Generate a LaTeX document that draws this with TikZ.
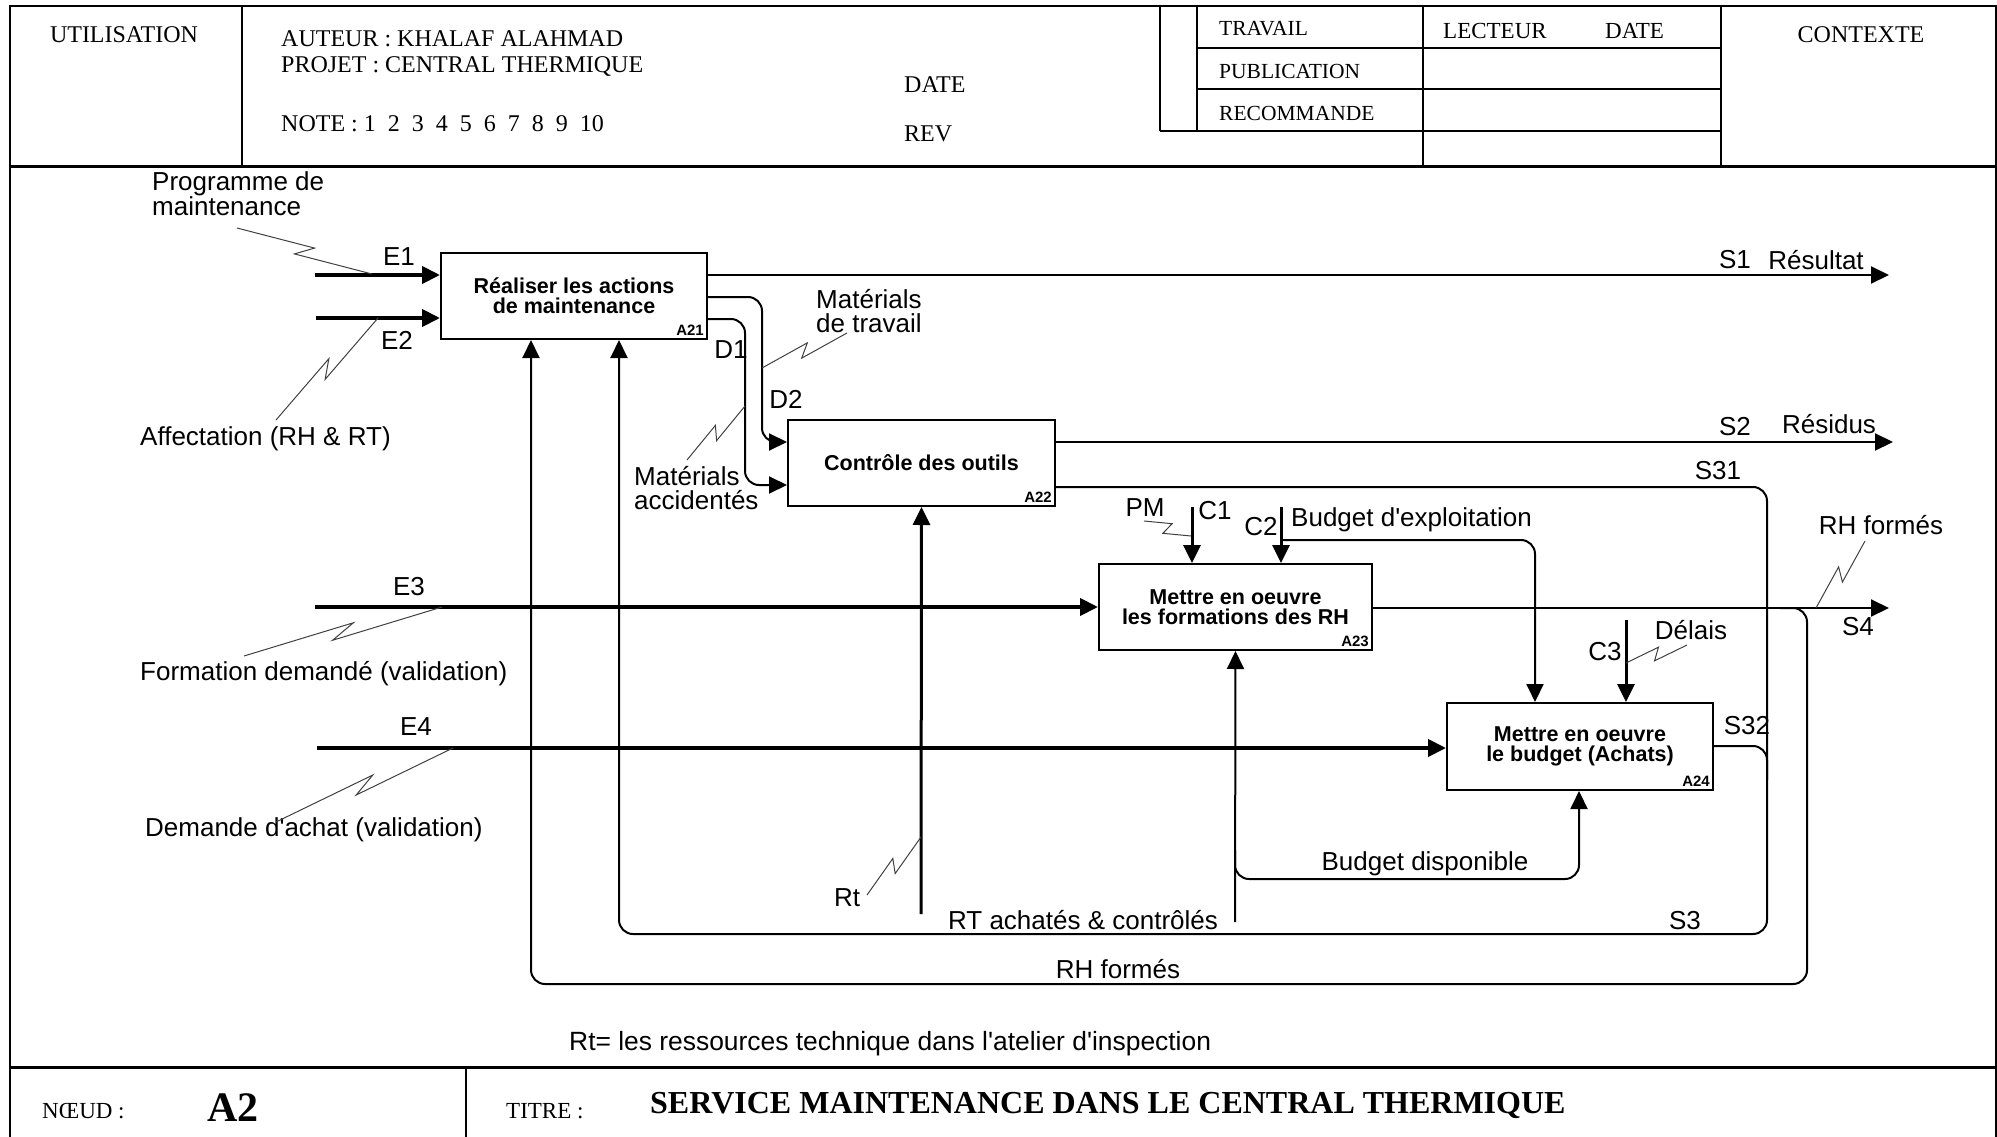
\documentclass[tikz,border=0pt]{standalone}
\usepackage{fontspec}
\setmainfont{Liberation Serif}
\newfontfamily\arialf{Liberation Sans}
\usetikzlibrary{arrows.meta,calc}
\newcommand\zigline[4]{%
  \pgfmathsetmacro\zdx{#3-(#1)}\pgfmathsetmacro\zdy{#4-(#2)}%
  \pgfmathsetmacro\zL{100*veclen(\zdx/100,\zdy/100)}%
  \pgfmathsetmacro\znx{6*\zdy/\zL}\pgfmathsetmacro\zny{-6*\zdx/\zL}%
  \draw[zig] (#1,#2) -- ({#1+0.56*\zdx+\znx},{#2+0.56*\zdy+\zny})
     -- ({#1+0.44*\zdx-\znx},{#2+0.44*\zdy-\zny}) -- (#3,#4);}
\begin{document}
\begin{tikzpicture}[x=1pt,y=-1pt,
  box/.style={draw,line width=2pt,fill=white,align=center,inner sep=0pt,
    font=\arialf\bfseries\fontsize{21.5}{20}\selectfont},
  boxid/.style={inner sep=0pt,anchor=south east,font=\arialf\bfseries\fontsize{15}{15}\selectfont},
  lbl/.style={inner sep=0pt,font=\arialf\fontsize{26}{24}\selectfont},
  hdr/.style={inner sep=0pt,anchor=west,font=\fontsize{24}{24}\selectfont},
  hdrs/.style={inner sep=0pt,anchor=west,font=\fontsize{21.5}{21.5}\selectfont},
  frame/.style={line width=2pt},
  thinl/.style={line width=2pt},
  thickl/.style={line width=4pt},
  midl/.style={line width=3pt},
  arr/.style={-{Triangle[length=18pt,width=17pt]}},
  rc/.style={rounded corners=14pt},
  zig/.style={line width=1pt,black!75}]
\useasboundingbox (0,0) rectangle (1997,1137);
% ---------- frame ----------
\draw[frame] (10,1137) -- (10,6) -- (1996,6) -- (1996,1137);
\draw[line width=3pt] (10,166) -- (1996,166);
\draw[line width=3pt] (10,1067) -- (1996,1067);
\draw[frame] (242,6) -- (242,166);
\draw[frame] (466,1067) -- (466,1137);
% header table
\draw[frame] (1160,6) -- (1160,131);
\draw[frame] (1197,6) -- (1197,131);
\draw[frame] (1423,6) -- (1423,166);
\draw[frame] (1721,6) -- (1721,166);
\draw[frame] (1197,48) -- (1721,48);
\draw[frame] (1197,89) -- (1721,89);
\draw[frame] (1160,131) -- (1721,131);
% header texts
\node[hdr,anchor=center] (util) at (124,35) {UTILISATION};
\node[hdr] (aut) at (281,39) {AUTEUR : KHALAF ALAHMAD};
\node[hdr] (proj) at (281,67) {PROJET : CENTRAL THERMIQUE};
\node[hdr] (note) at (281,124) {NOTE : 1\enspace 2\enspace 3\enspace 4\enspace 5\enspace 6\enspace 7\enspace 8\enspace 9\enspace 10};
\node[hdr] (date1) at (904,85) {DATE};
\node[hdr] (rev) at (904,134) {REV};
\node[hdrs] (trav) at (1219,29) {TRAVAIL};
\node[hdrs,font=\fontsize{23}{23}\selectfont] (lect) at (1443,31) {LECTEUR};
\node[hdrs,font=\fontsize{23}{23}\selectfont] (date2) at (1605,31) {DATE};
\node[hdrs] (pub) at (1219,71) {PUBLICATION};
\node[hdrs] (rec) at (1219,113) {RECOMMANDE};
\node[hdr,anchor=center] (ctx) at (1861,35) {CONTEXTE};
% footer texts
\node[hdr,font=\fontsize{23}{23}\selectfont] (noeud) at (42,1111) {NŒUD :};
\node[inner sep=0pt,font=\bfseries\fontsize{42}{42}\selectfont] (a2) at (233,1108) {A2};
\node[hdr,font=\fontsize{23}{23}\selectfont] (titre) at (506,1111) {TITRE :};
\node[hdr,font=\bfseries\fontsize{32}{32}\selectfont] (title) at (650,1105) {SERVICE MAINTENANCE DANS LE CENTRAL THERMIQUE};
\node[lbl,anchor=west,font=\arialf\fontsize{26.4}{24}\selectfont] (note2) at (569,1044) {Rt= les ressources technique dans l'atelier d'inspection};
% ---------- boxes ----------
\node[box,minimum width=266pt,minimum height=86pt] (A21) at (574,296) {Réaliser les actions\\de maintenance};
\node[box,minimum width=267pt,minimum height=86pt] (A22) at (921.5,463) {Contrôle des outils};
\node[box,minimum width=273pt,minimum height=86pt] (A23) at (1235.5,607) {Mettre en oeuvre\\les formations des RH};
\node[box,minimum width=266pt,minimum height=87pt] (A24) at (1580,746.5) {Mettre en oeuvre\\le budget (Achats)};
\node[boxid] at ([xshift=-4pt,yshift=4pt]A21.south east) {A21};
\node[boxid] at ([xshift=-4pt,yshift=4pt]A22.south east) {A22};
\node[boxid] at ([xshift=-4pt,yshift=4pt]A23.south east) {A23};
\node[boxid] at ([xshift=-4pt,yshift=4pt]A24.south east) {A24};
% ---------- free ends ----------
\coordinate (E1s) at (315,275);
\coordinate (E2s) at (316,318);
\coordinate (E3s) at (315,607);
\coordinate (E4s) at (317,748);
\coordinate (S1e) at (1889,275);
\coordinate (S2e) at (1893,442);
\coordinate (S4e) at (1889,608);
\coordinate (Rts) at (921,914);
\coordinate (Ms) at (1235,922);
\coordinate (C1s) at (1192,507);
\coordinate (C2s) at (1281,507);
\coordinate (C3s) at (1626,620);
% ---------- connectors ----------
\draw[thickl,arr] (E1s) -- (A21.west |- E1s);
\draw[thickl,arr] (E2s) -- (A21.west |- E2s);
\draw[thickl,arr] (E3s) -- (A23.west |- E3s);
\draw[thickl,arr] (E4s) -- (A24.west |- E4s);
\draw[thinl,arr] (A21.east |- S1e) -- (S1e);
\draw[thinl,arr] (A22.east |- S2e) -- (S2e);
\draw[thinl,arr] (A23.east |- S4e) -- (S4e);
% D2, D1
\draw[thinl,rc,arr] (A21.east |- 0,297) -- (762,297) -- (762,442) -- (A22.west |- 0,442);
\draw[thinl,rc,arr] (A21.east |- 0,319) -- (745,319) -- (745,485) -- (A22.west |- 0,485);
% S31 / S3 loop
\draw[thinl,rc,arr] (A22.east |- 0,487) -- (1767,487) -- (1767,934) -- (619,934) -- (A21.south -| 619,0);
\draw[thinl,rc] (A24.east |- 0,746) -- (1767,746) -- (1767,780);
% RH formés loop
\draw[thinl,rc,arr] (1780,608) -- (1807,608) -- (1807,984) -- (531,984) -- (A21.south -| 531,0);
% Rt
\draw[midl,arr] (Rts) -- (A22.south);
% mechanism A23 and budget disponible
\draw[thinl,arr] (Ms) -- (A23.south);
\draw[thinl,rc,arr] (1235,850) -- (1235,879) -- (1579,879) -- (A24.south -| 1579,0);
% controls
\draw[midl,arr] (C1s) -- (A23.north -| C1s);
\draw[midl,arr] (C2s) -- (A23.north -| C2s);
\draw[thinl,rc,arr] (1281,540) -- (1535,540) -- (A24.north -| 1535,0);
\draw[midl,arr] (C3s) -- (A24.north -| C3s);
% ---------- labels ----------
\node[lbl,anchor=west,align=left] (lprog) at (152,194) {Programme de\\maintenance};
\node[lbl] (lE1) at (399,257) {E1};
\node[lbl] (lE2) at (397,340) {E2};
\node[lbl,anchor=west] (laff) at (140,439) {Affectation (RH \& RT)};
\node[lbl] (lD1) at (731,350) {D1};
\node[lbl] (lD2) at (786,399) {D2};
\node[lbl,anchor=west,align=left] (lmt) at (816,311) {Matérials\\de travail};
\node[lbl,anchor=west,align=left] (lma) at (634,488) {Matérials\\accidentés};
\node[lbl] (lS1) at (1735,260) {S1};
\node[lbl] (lres) at (1816,260) {Résultat};
\node[lbl] (lS2) at (1735,427) {S2};
\node[lbl] (lresid) at (1829,424) {Résidus};
\node[lbl] (lS31) at (1718,471) {S31};
\node[lbl] (lPM) at (1145,508) {PM};
\node[lbl] (lC1) at (1215,511) {C1};
\node[lbl] (lC2) at (1261,527) {C2};
\node[lbl,anchor=west] (lbe) at (1291,520) {Budget d'exploitation};
\node[lbl] (lrhf) at (1881,525) {RH formés};
\node[lbl] (lE3) at (409,587) {E3};
\node[lbl] (lS4) at (1858,627) {S4};
\node[lbl] (ldel) at (1691,630) {Délais};
\node[lbl] (lC3) at (1605,652) {C3};
\node[lbl,anchor=west] (lform) at (140,674) {Formation demandé (validation)};
\node[lbl] (lE4) at (416,727) {E4};
\node[lbl] (lS32) at (1747,726) {S32};
\node[lbl,anchor=west] (ldem) at (145,830) {Demande d'achat (validation)};
\node[lbl] (lbd) at (1425,864) {Budget disponible};
\node[lbl] (lRt) at (847,898) {Rt};
\node[lbl] (lrta) at (1083,920) {RT achatés \& contrôlés};
\node[lbl] (lS3) at (1685,921) {S3};
\node[lbl] (lrhb) at (1118,969) {RH formés};
% ---------- leader squiggles ----------
\zigline{237}{228}{372}{274}
\zigline{276}{420}{378}{318}
\zigline{847}{333}{762}{368}
\zigline{687}{460}{745}{406}
\zigline{1144}{521}{1191}{536}
\zigline{1687}{645}{1626}{663}
\zigline{1865}{541}{1816}{608}
\zigline{244}{656}{442}{607}
\zigline{276}{822}{453}{748}
\zigline{867}{895}{921}{837}
\end{tikzpicture}
\end{document}
